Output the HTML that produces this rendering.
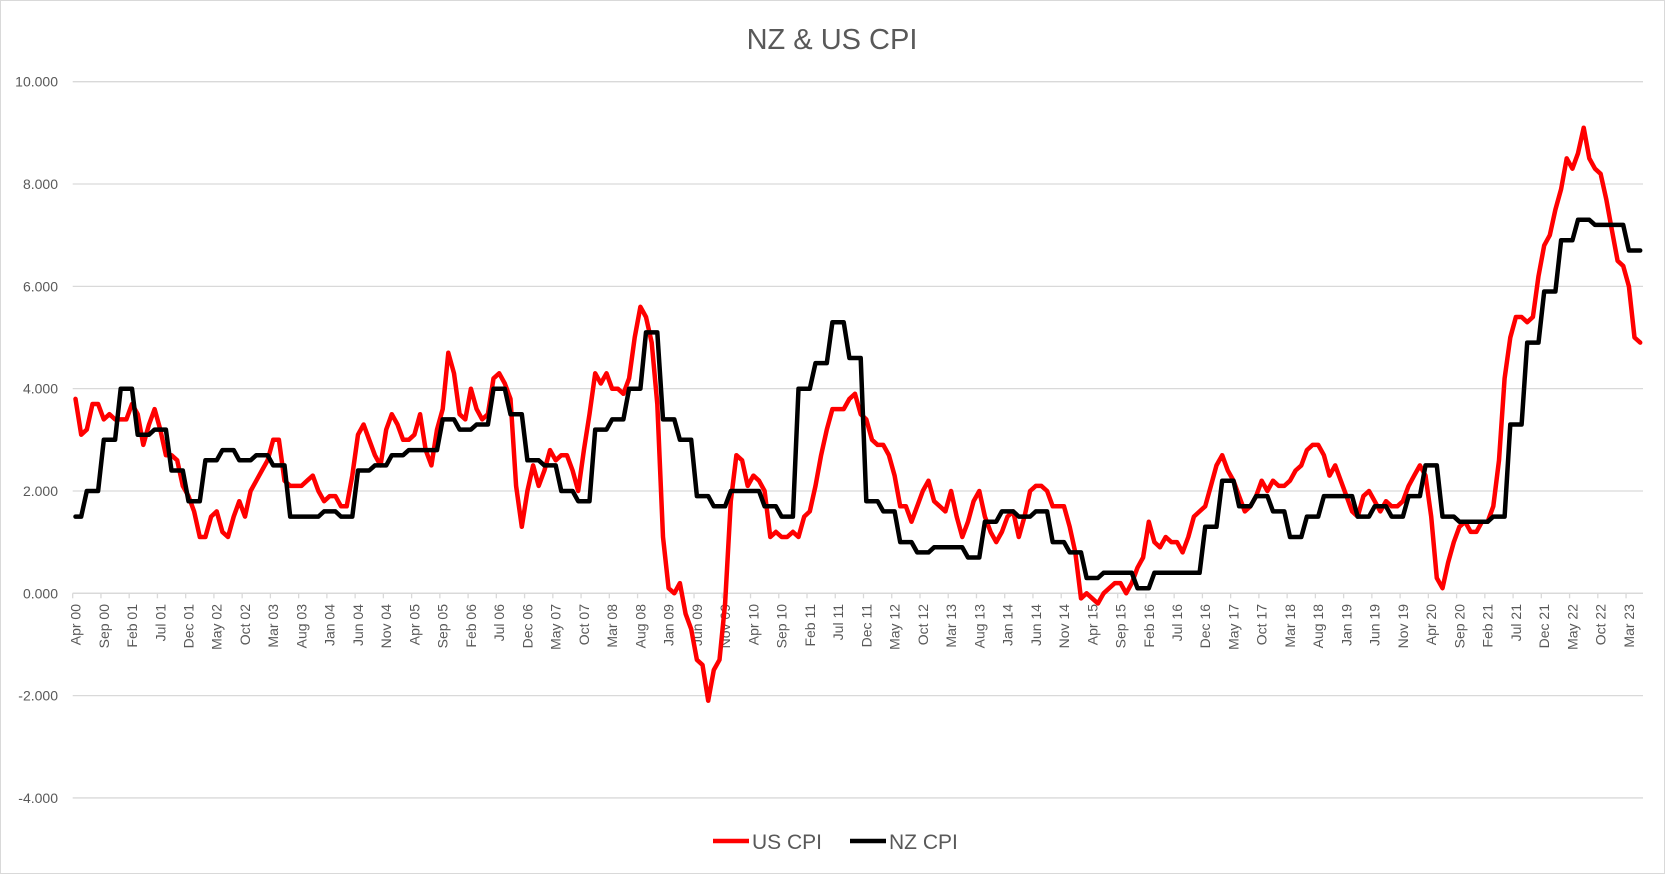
<!DOCTYPE html>
<html><head><meta charset="utf-8"><style>
html,body{margin:0;padding:0;background:#fff;}
#chart{position:absolute;left:0;top:0;width:1665px;height:874px;}
text{font-family:"Liberation Sans",sans-serif;}
</style></head><body>
<svg id="chart" width="1665" height="874" xmlns="http://www.w3.org/2000/svg">
<rect x="0.5" y="0.5" width="1664" height="873" fill="#fff" stroke="#d9d9d9"/>
<text x="832" y="49" text-anchor="middle" font-size="29" fill="#595959">NZ &amp; US CPI</text>
<g id="grid"></g><g id="xaxis"></g><g id="series"></g>
<g>
<line x1="713" y1="841" x2="749" y2="841" stroke="#ff0000" stroke-width="4.5"/>
<text x="752" y="849" font-size="21" fill="#595959">US CPI</text>
<line x1="850" y1="841" x2="886" y2="841" stroke="#000" stroke-width="4.5"/>
<text x="889" y="849" font-size="21" fill="#595959">NZ CPI</text>
</g>
</svg>
<script>
const yTicks=[10,8,6,4,2,0,-2,-4];
const xLabels=["Apr 00","Sep 00","Feb 01","Jul 01","Dec 01","May 02","Oct 02","Mar 03","Aug 03","Jan 04","Jun 04","Nov 04","Apr 05","Sep 05","Feb 06","Jul 06","Dec 06","May 07","Oct 07","Mar 08","Aug 08","Jan 09","Jun 09","Nov 09","Apr 10","Sep 10","Feb 11","Jul 11","Dec 11","May 12","Oct 12","Mar 13","Aug 13","Jan 14","Jun 14","Nov 14","Apr 15","Sep 15","Feb 16","Jul 16","Dec 16","May 17","Oct 17","Mar 18","Aug 18","Jan 19","Jun 19","Nov 19","Apr 20","Sep 20","Feb 21","Jul 21","Dec 21","May 22","Oct 22","Mar 23"];
const usCPI=[3.8,3.1,3.2,3.7,3.7,3.4,3.5,3.4,3.4,3.4,
3.7,3.5,2.9,3.3,3.6,3.2,2.7,2.7,2.6,2.1,1.9,1.6,
1.1,1.1,1.5,1.6,1.2,1.1,1.5,1.8,1.5,2.0,2.2,2.4,
2.6,3.0,3.0,2.2,2.1,2.1,2.1,2.2,2.3,2.0,1.8,1.9,
1.9,1.7,1.7,2.3,3.1,3.3,3.0,2.7,2.5,3.2,3.5,3.3,
3.0,3.0,3.1,3.5,2.8,2.5,3.2,3.6,4.7,4.3,3.5,3.4,
4.0,3.6,3.4,3.5,4.2,4.3,4.1,3.8,2.1,1.3,2.0,2.5,
2.1,2.4,2.8,2.6,2.7,2.7,2.4,2.0,2.8,3.5,4.3,4.1,
4.3,4.0,4.0,3.9,4.2,5.0,5.6,5.4,4.9,3.7,1.1,0.1,
0.0,0.2,-0.4,-0.7,-1.3,-1.4,-2.1,-1.5,-1.3,-0.2,1.8,2.7,
2.6,2.1,2.3,2.2,2.0,1.1,1.2,1.1,1.1,1.2,1.1,1.5,
1.6,2.1,2.7,3.2,3.6,3.6,3.6,3.8,3.9,3.5,3.4,3.0,
2.9,2.9,2.7,2.3,1.7,1.7,1.4,1.7,2.0,2.2,1.8,1.7,
1.6,2.0,1.5,1.1,1.4,1.8,2.0,1.5,1.2,1.0,1.2,1.5,
1.6,1.1,1.5,2.0,2.1,2.1,2.0,1.7,1.7,1.7,1.3,0.8,
-0.1,0.0,-0.1,-0.2,0.0,0.1,0.2,0.2,0.0,0.2,0.5,0.7,
1.4,1.0,0.9,1.1,1.0,1.0,0.8,1.1,1.5,1.6,1.7,2.1,
2.5,2.7,2.4,2.2,1.9,1.6,1.7,1.9,2.2,2.0,2.2,2.1,
2.1,2.2,2.4,2.5,2.8,2.9,2.9,2.7,2.3,2.5,2.2,1.9,
1.6,1.5,1.9,2.0,1.8,1.6,1.8,1.7,1.7,1.8,2.1,2.3,
2.5,2.3,1.5,0.3,0.1,0.6,1.0,1.3,1.4,1.2,1.2,1.4,
1.4,1.7,2.6,4.2,5.0,5.4,5.4,5.3,5.4,6.2,6.8,7.0,
7.5,7.9,8.5,8.3,8.6,9.1,8.5,8.3,8.2,7.7,7.1,6.5,
6.4,6.0,5.0,4.9];
const nzCPI=[1.5,1.5,
2,2,2,3,3,3,4,4,4,3.1,3.1,3.1,
3.2,3.2,3.2,2.4,2.4,2.4,1.8,1.8,1.8,2.6,2.6,2.6,
2.8,2.8,2.8,2.6,2.6,2.6,2.7,2.7,2.7,2.5,2.5,2.5,
1.5,1.5,1.5,1.5,1.5,1.5,1.6,1.6,1.6,1.5,1.5,1.5,
2.4,2.4,2.4,2.5,2.5,2.5,2.7,2.7,2.7,2.8,2.8,2.8,
2.8,2.8,2.8,3.4,3.4,3.4,3.2,3.2,3.2,3.3,3.3,3.3,
4.0,4.0,4.0,3.5,3.5,3.5,2.6,2.6,2.6,2.5,2.5,2.5,
2.0,2.0,2.0,1.8,1.8,1.8,3.2,3.2,3.2,3.4,3.4,3.4,
4.0,4.0,4.0,5.1,5.1,5.1,3.4,3.4,3.4,3.0,3.0,3.0,
1.9,1.9,1.9,1.7,1.7,1.7,2.0,2.0,2.0,2.0,2.0,2.0,
1.7,1.7,1.7,1.5,1.5,1.5,4.0,4.0,4.0,4.5,4.5,4.5,
5.3,5.3,5.3,4.6,4.6,4.6,1.8,1.8,1.8,1.6,1.6,1.6,
1.0,1.0,1.0,0.8,0.8,0.8,0.9,0.9,0.9,0.9,0.9,0.9,
0.7,0.7,0.7,1.4,1.4,1.4,1.6,1.6,1.6,1.5,1.5,1.5,
1.6,1.6,1.6,1.0,1.0,1.0,0.8,0.8,0.8,0.3,0.3,0.3,
0.4,0.4,0.4,0.4,0.4,0.4,0.1,0.1,0.1,0.4,0.4,0.4,
0.4,0.4,0.4,0.4,0.4,0.4,1.3,1.3,1.3,2.2,2.2,2.2,
1.7,1.7,1.7,1.9,1.9,1.9,1.6,1.6,1.6,1.1,1.1,1.1,
1.5,1.5,1.5,1.9,1.9,1.9,1.9,1.9,1.9,1.5,1.5,1.5,
1.7,1.7,1.7,1.5,1.5,1.5,1.9,1.9,1.9,2.5,2.5,2.5,
1.5,1.5,1.5,1.4,1.4,1.4,1.4,1.4,1.4,1.5,1.5,1.5,
3.3,3.3,3.3,4.9,4.9,4.9,5.9,5.9,5.9,6.9,6.9,6.9,
7.3,7.3,7.3,7.2,7.2,7.2,7.2,7.2,7.2,6.7,6.7,6.7];

const NS="http://www.w3.org/2000/svg";
const L=72.7,R=1643,Y0=593.3,PX=51.16;
const N=usCPI.length;
const w=(R-L)/N;
function yS(v){return Y0-v*PX;}
function xS(i){return L+(i+0.5)*w;}
function mk(tag,attrs,parent){const e=document.createElementNS(NS,tag);for(const k in attrs)e.setAttribute(k,attrs[k]);parent.appendChild(e);return e;}
const grid=document.getElementById('grid');
yTicks.forEach(v=>{
  const ln=mk('line',{x1:L,x2:R,y1:yS(v),y2:yS(v),stroke:'#d9d9d9','stroke-width':1.3},grid);
  
  
  const t=mk('text',{x:58,y:yS(v)+5,'text-anchor':'end','font-size':14,fill:'#595959'},grid);
  
  
  t.textContent=v.toFixed(3);
});
const xa=document.getElementById('xaxis');
const ax=mk('line',{x1:L,x2:R,y1:Y0,y2:Y0,stroke:'#d9d9d9','stroke-width':1.3},xa);


xLabels.forEach((lab,k)=>{
  const i=k*5;
  const bx=L+i*w;
  const tk=mk('line',{x1:bx,x2:bx,y1:Y0,y2:Y0+5,stroke:'#d9d9d9','stroke-width':1.3},xa);
  
  
  const cx=xS(i)+5;
  const t=mk('text',{x:cx,y:604,'text-anchor':'end','font-size':14,fill:'#595959',transform:`rotate(-90 ${cx} 604)`},xa);
  
  
  t.textContent=lab;
});
const sg=document.getElementById('series');
function line(arr,color,name){
  const d=arr.map((v,i)=>(i?'L':'M')+xS(i).toFixed(1)+' '+yS(v).toFixed(1)).join(' ');
  const p=mk('path',{d:d,fill:'none',stroke:color,'stroke-width':4.5,'stroke-linejoin':'round','stroke-linecap':'round'},sg);
  
  
}
line(usCPI,'#ff0000','us-cpi-line');
line(nzCPI,'#000000','nz-cpi-line');
</script>
</body></html>
